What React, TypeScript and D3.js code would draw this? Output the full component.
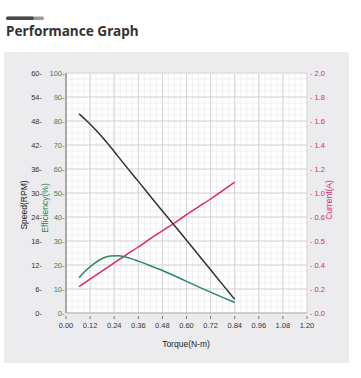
import React from "react";
import * as d3 from "d3";

const torque = [0.065, 0.10, 0.14, 0.18, 0.22, 0.26, 0.30, 0.36, 0.42, 0.48, 0.54, 0.60, 0.66, 0.72, 0.78, 0.84];
const speed = [49.8, 48.2, 46.2, 44.0, 41.6, 39.1, 36.6, 32.9, 29.2, 25.5, 21.9, 18.2, 14.5, 10.8, 7.1, 3.4];
const efficiency = [14.7, 17.8, 20.6, 22.7, 23.8, 23.9, 23.2, 21.6, 19.7, 17.7, 15.5, 13.2, 10.9, 8.7, 6.5, 4.4];
const current = [0.22, 0.26, 0.305, 0.35, 0.395, 0.44, 0.485, 0.55, 0.62, 0.685, 0.75, 0.82, 0.885, 0.95, 1.02, 1.09];

const xTicks = [0, 0.12, 0.24, 0.36, 0.48, 0.6, 0.72, 0.84, 0.96, 1.08, 1.2];
const speedTicks = [0, 6, 12, 18, 24, 30, 36, 42, 48, 54, 60];
const effTicks = [0, 10, 20, 30, 40, 50, 60, 70, 80, 90, 100];
const currentTickValues = [0, 0.2, 0.4, 0.6, 0.8, 1.0, 1.2, 1.4, 1.6, 1.8, 2.0];
const currentTickLabels = ["0.0", "0.2", "0.4", "0.5", "0.6", "1.0", "1.2", "1.4", "1.6", "1.8", "2.0"];

const W = 361, H = 378;
const L = 66, R = 307, T = 73, B = 313;
const GREEN = "#2b8a5a";
const PINK = "#d9286f";
const DARK = "#333333";
const FONT = "Liberation Sans, Arial, sans-serif";

export default function App() {
  const x = d3.scaleLinear().domain([0, 1.2]).range([L, R]);
  const ySpeed = d3.scaleLinear().domain([0, 60]).range([B, T]);
  const yEff = d3.scaleLinear().domain([0, 100]).range([B, T]);
  const yCur = d3.scaleLinear().domain([0, 2]).range([B, T]);

  const minorX = d3.range(0, 41).map((i) => i * 0.03);
  const minorY = d3.range(0, 41).map((i) => i * 2.5);

  const mk = (ys: number[], sc: d3.ScaleLinear<number, number>) =>
    d3.line<number>().x((_, i) => x(torque[i])).y((v) => sc(v)).curve(d3.curveMonotoneX)(ys) || "";

  return (
    <svg width={W} height={H} style={{ position: "absolute", left: 0, top: 0 }} fontFamily={FONT}>
      <rect width={W} height={H} fill="#ffffff" />
      {/* header bar */}
      <rect x={6} y={16.5} width={38} height={3.6} rx={1.8} fill="#9a9a9a" />
      <rect x={6} y={16.5} width={28} height={3.6} rx={1.8} fill="#4a4a4a" />
      <text x={6} y={36} fontSize={13.6} fontWeight="bold" fill="#333" fontFamily="Noto Sans, sans-serif">Performance Graph</text>
      {/* panel */}
      <rect x={4} y={52} width={345} height={311} fill="#ececef" />
      <rect x={L} y={T} width={R - L} height={B - T} fill="#ffffff" />
      {/* minor grid */}
      {minorX.map((v, i) => (
        <line key={"mx" + i} x1={x(v)} x2={x(v)} y1={T} y2={B} stroke="#ececec" strokeWidth={0.8} />
      ))}
      {minorY.map((v, i) => (
        <line key={"my" + i} x1={L} x2={R} y1={yEff(v)} y2={yEff(v)} stroke="#ececec" strokeWidth={0.8} />
      ))}
      {/* major grid */}
      {xTicks.map((v, i) => (
        <line key={"gx" + i} x1={x(v)} x2={x(v)} y1={T} y2={B} stroke="#d6d6d6" strokeWidth={1} />
      ))}
      {effTicks.map((v, i) => (
        <line key={"gy" + i} x1={L} x2={R} y1={yEff(v)} y2={yEff(v)} stroke="#d6d6d6" strokeWidth={1} />
      ))}
      {/* axes */}
      <line x1={L} x2={L} y1={T} y2={B} stroke="#9a9a9a" strokeWidth={1.6} />
      <line x1={L} x2={R} y1={B} y2={B} stroke="#b5b5b5" strokeWidth={1} />
      {/* x ticks */}
      {xTicks.map((v, i) => (
        <g key={"xt" + i}>
          <line x1={x(v)} x2={x(v)} y1={316} y2={319} stroke="#555" strokeWidth={0.8} />
          <text x={x(v)} y={328} fontSize={7.5} textAnchor="middle" fill="#333">{v.toFixed(2)}</text>
        </g>
      ))}
      <text x={186} y={347} fontSize={8.5} textAnchor="middle" fill="#222">Torque(N-m)</text>
      {/* speed ticks */}
      {speedTicks.map((v, i) => (
        <text key={"st" + i} x={42} y={ySpeed(v) + 2.6} fontSize={7.5} textAnchor="end" fill="#333">{v + "-"}</text>
      ))}
      {effTicks.map((v, i) => (
        <text key={"et" + i} x={64.5} y={yEff(v) + 2.6} fontSize={7.5} textAnchor="end" fill={GREEN}>{v + "-"}</text>
      ))}
      {currentTickValues.map((v, i) => (
        <text key={"ct" + i} x={310} y={yCur(v) + 2.6} fontSize={7.5} textAnchor="start" fill={PINK}>{"- " + currentTickLabels[i]}</text>
      ))}
      <text transform="translate(27,205) rotate(-90)" fontSize={8.5} textAnchor="middle" fill="#222">Speed(RPM)</text>
      <text transform="translate(48,208) rotate(-90)" fontSize={8.5} textAnchor="middle" fill={GREEN}>Efficiency(%)</text>
      <text transform="translate(332,200) rotate(-90)" fontSize={8.5} textAnchor="middle" fill={PINK}>Current(A)</text>
      {/* series */}
      <path d={mk(current, yCur)} fill="none" stroke={PINK} strokeWidth={1.5} />
      <path d={mk(efficiency, yEff)} fill="none" stroke={GREEN} strokeWidth={1.5} />
      <path d={mk(speed, ySpeed)} fill="none" stroke={DARK} strokeWidth={1.5} />
    </svg>
  );
}
